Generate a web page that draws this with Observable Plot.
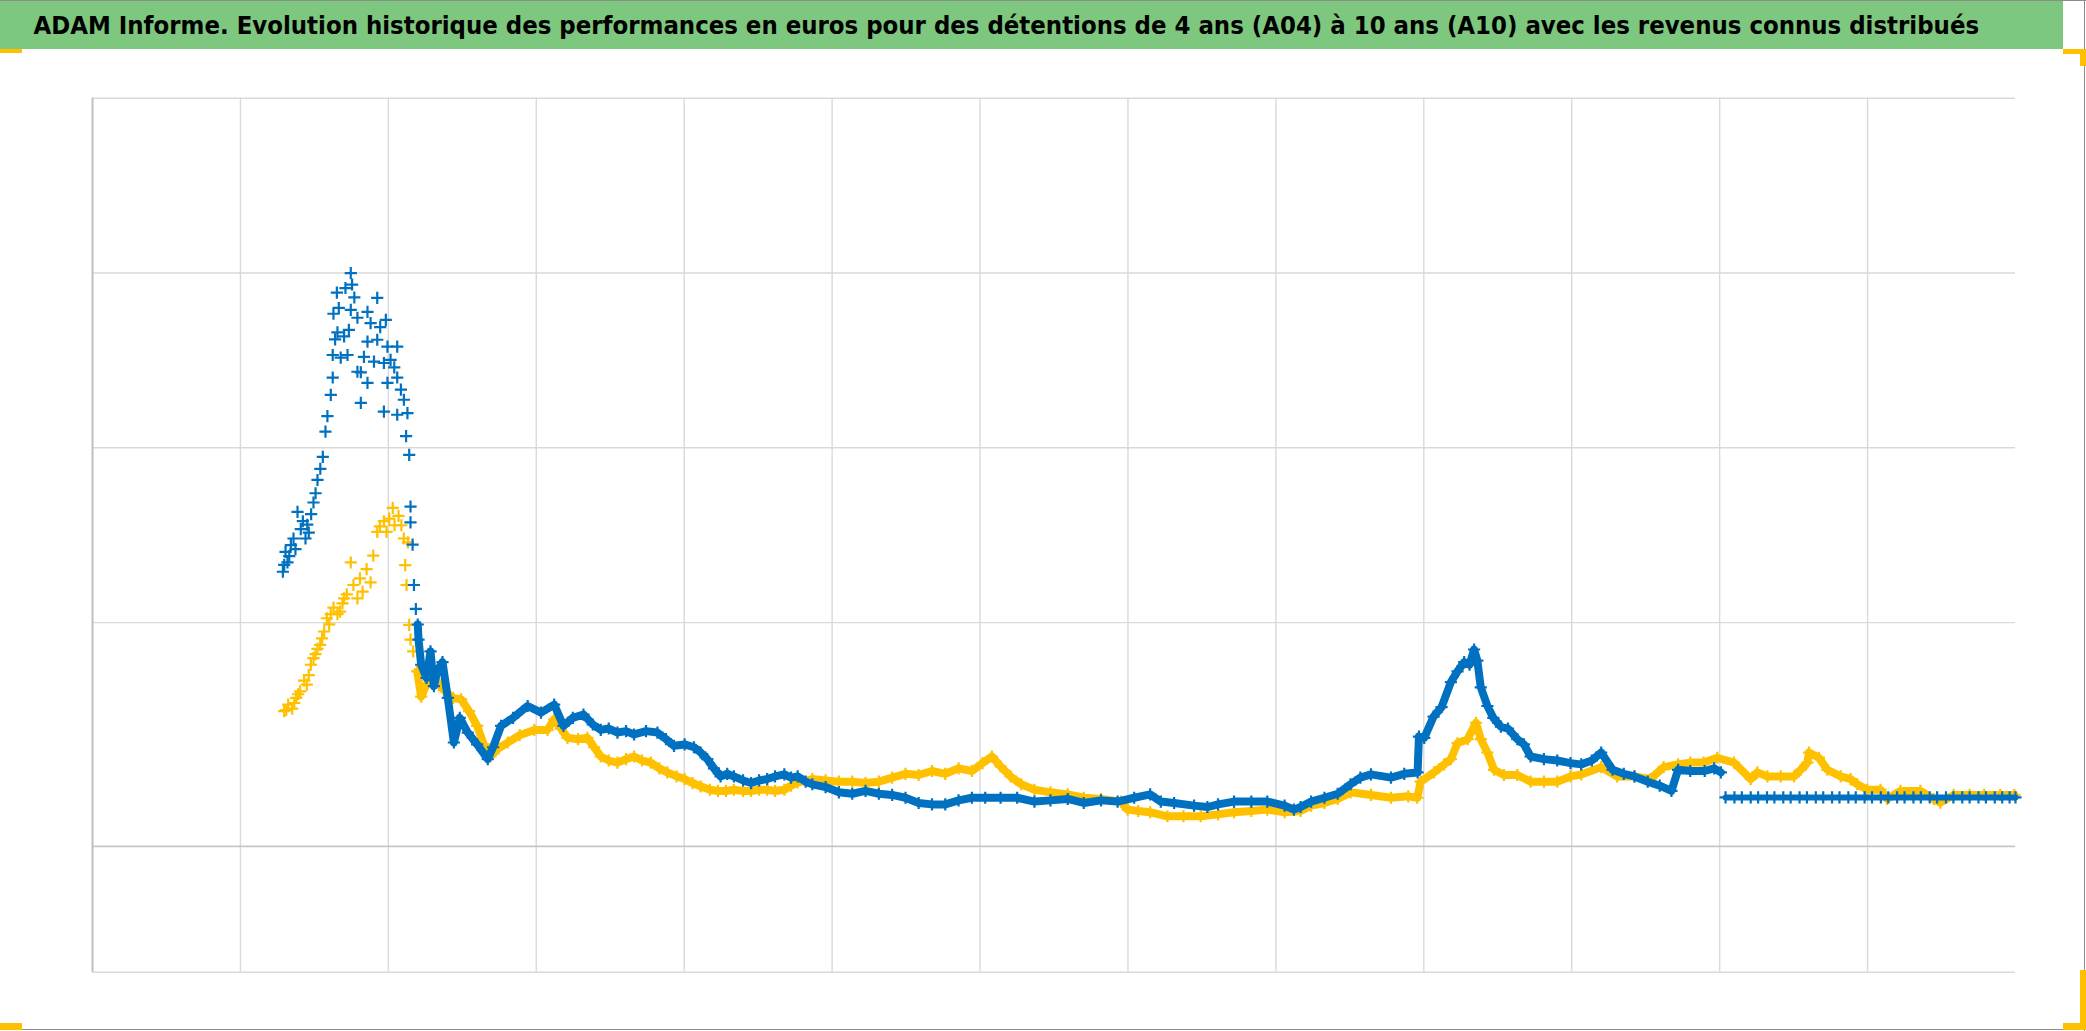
<!DOCTYPE html>
<html>
<head>
<meta charset="utf-8">
<script src="https://cdn.jsdelivr.net/npm/d3@7"></script>
<script src="https://cdn.jsdelivr.net/npm/@observablehq/plot@0.6"></script>
<style>
html, body { margin: 0; padding: 0; background: #fff; }
#chart { position: relative; width: 2086px; height: 1031px; overflow: hidden; background: #fff; }
#head { display: block; }
#plot { position: absolute; left: 0; top: 49px; }
.frame-r { position: absolute; left: 2084px; top: 0; width: 1px; height: 1031px; background: #8c8c8c; }
.frame-b { position: absolute; left: 0; top: 1029px; width: 2086px; height: 1px; background: #8c8c8c; }
.frame-t { position: absolute; left: 0; top: 0; width: 2086px; height: 1px; background: #8c8c8c; }
.h { position: absolute; background: #FFC000; }
</style>
</head>
<body>
<div id="chart">
  <svg id="head" width="2086" height="49">
    <rect x="0" y="0" width="2063" height="49" fill="#7ec77f"></rect>
    <g id="tg" transform="translate(33.5,33.5)">
      <text id="title" x="0" y="0"
        font-family="'Liberation Sans Narrow', 'Arial Narrow', 'DejaVu Sans Condensed', sans-serif"
        font-weight="bold" font-size="22" fill="#000">ADAM Informe. Evolution historique des performances en euros pour des détentions de 4 ans (A04) à 10 ans (A10) avec les revenus connus distribués</text>
    </g>
  </svg>
  <div id="plot"></div>
  <div class="frame-t"></div>
  <div class="frame-r"></div>
  <div class="frame-b"></div>
  <div class="h" style="left:0;top:49px;width:22px;height:4px"></div>
  <div class="h" style="left:2063px;top:49px;width:23px;height:5px"></div>
  <div class="h" style="left:2080px;top:49px;width:6px;height:17px"></div>
  <div class="h" style="left:2080px;top:970px;width:6px;height:60px"></div>
  <div class="h" style="left:2063px;top:1023px;width:23px;height:7px"></div>
  <div class="h" style="left:0;top:1023px;width:22px;height:7px"></div>
</div>
<script>
// ---- Data (x: period index on a 0–13 grid, y: performance level) ----
const xGrid = [1, 2, 3, 4, 5, 6, 7, 8, 9, 10, 11, 12];
const yGrid = [0, 2, 3, 4, 5];
const axisCross = 0.72;

// Blue series (A04), early volatile part
const a04Early = [
[1.287,2.291],[1.296,2.330],[1.305,2.405],[1.318,2.344],[1.330,2.380],[1.341,2.443],[1.359,2.481],[1.372,2.420],[1.386,2.633],[1.408,2.535],[1.422,2.580],
[1.440,2.481],[1.452,2.560],[1.462,2.515],[1.478,2.620],[1.494,2.687],[1.508,2.740],[1.521,2.816],[1.540,2.880],[1.557,2.948],[1.575,3.093],[1.588,3.181],[1.611,3.303],
[1.624,3.402],[1.624,3.531],[1.629,3.767],[1.640,3.620],[1.652,3.888],[1.656,3.660],[1.665,3.800],[1.678,3.516],[1.701,3.637],[1.710,3.914],
[1.724,3.531],[1.733,3.675],[1.746,3.999],[1.746,3.789],[1.755,3.934],[1.770,3.860],[1.791,3.744],[1.791,3.435],[1.814,3.432],
[1.814,3.257],[1.835,3.520],[1.859,3.778],[1.859,3.607],[1.859,3.371],[1.880,3.713],[1.903,3.493],[1.925,3.858],[1.925,3.618],
[1.945,3.690],[1.970,3.485],[1.970,3.207],[1.983,3.732],[1.994,3.579],[1.994,3.371],[2.015,3.503],[2.040,3.460],[2.060,3.579],[2.060,3.402],
[2.060,3.189],[2.085,3.333],[2.105,3.275],[2.120,3.067],[2.129,3.198],[2.141,2.960],[2.150,2.664],[2.150,2.573],
[2.164,2.446],[2.173,2.215],[2.186,2.078]
];
// Blue series (A04), continuous part
const a04 = [
[2.199,1.989],[2.204,1.903],[2.222,1.759],[2.258,1.683],[2.285,1.835],[2.308,1.637],[2.330,1.721],[2.366,1.774],
[2.402,1.569],[2.443,1.314],[2.483,1.455],[2.537,1.371],[2.600,1.303],[2.672,1.219],[2.708,1.287],[2.762,1.409],
[2.843,1.455],[2.942,1.523],[3.032,1.485],[3.121,1.531],[3.184,1.409],[3.247,1.455],[3.319,1.474],[3.382,1.417],
[3.436,1.386],[3.490,1.394],[3.549,1.371],[3.607,1.379],[3.661,1.360],[3.742,1.379],[3.819,1.371],[3.877,1.333],
[3.931,1.295],[4.003,1.303],[4.066,1.287],[4.111,1.257],[4.156,1.219],[4.201,1.166],[4.246,1.120],[4.291,1.135],
[4.336,1.120],[4.398,1.097],[4.452,1.082],[4.506,1.097],[4.561,1.105],[4.614,1.120],[4.677,1.132],[4.722,1.113],
[4.767,1.120],[4.821,1.090],[4.866,1.075],[4.956,1.059],[5.046,1.029],[5.136,1.021],[5.226,1.037],[5.316,1.021],
[5.406,1.014],[5.496,0.998],[5.585,0.968],[5.675,0.960],[5.765,0.960],[5.855,0.983],[5.945,0.998],[6.035,0.998],
[6.139,0.998],[6.251,0.998],[6.368,0.976],[6.476,0.983],[6.593,0.991],[6.701,0.968],[6.818,0.983],[6.930,0.976],
[7.042,0.998],[7.150,1.017],[7.222,0.976],[7.312,0.968],[7.447,0.953],[7.537,0.945],[7.609,0.960],[7.717,0.976],
[7.834,0.976],[7.942,0.976],[8.059,0.953],[8.122,0.930],[8.167,0.945],[8.238,0.976],[8.328,0.998],[8.418,1.021],
[8.505,1.075],[8.571,1.113],[8.643,1.132],[8.778,1.113],[8.868,1.135],[8.958,1.143],[8.967,1.348],[9.003,1.341],
[9.066,1.462],[9.120,1.516],[9.183,1.660],[9.228,1.721],[9.273,1.774],[9.309,1.759],[9.340,1.846],[9.362,1.782],
[9.385,1.630],[9.430,1.523],[9.470,1.455],[9.521,1.405],[9.569,1.394],[9.632,1.333],[9.677,1.303],[9.722,1.234],
[9.812,1.219],[9.902,1.211],[9.992,1.196],[10.064,1.189],[10.136,1.211],[10.199,1.257],[10.276,1.158],[10.352,1.135],
[10.424,1.120],[10.514,1.090],[10.595,1.067],[10.674,1.037],[10.719,1.158],[10.801,1.151],[10.899,1.151],[10.963,1.166],
[11.008,1.143]
];
// Blue series (A04), constant final part
const a04Flat = [
[11.04,1],[11.10,1],[11.15,1],[11.21,1],[11.26,1],[11.32,1],[11.37,1],[11.43,1],[11.48,1],[11.54,1],[11.59,1],[11.65,1],
[11.70,1],[11.76,1],[11.81,1],[11.87,1],[11.92,1],[11.98,1],[12.03,1],[12.09,1],[12.14,1],[12.20,1],[12.25,1],[12.31,1],
[12.36,1],[12.42,1],[12.47,1],[12.53,1],[12.58,1],[12.64,1],[12.69,1],[12.75,1],[12.80,1],[12.86,1],[12.91,1],[12.96,1],[13.0,1]
];
// Yellow series (A10), early part
const a10Early = [
[1.296,1.493],[1.310,1.500],[1.323,1.531],[1.350,1.508],[1.364,1.540],[1.377,1.569],[1.390,1.590],[1.404,1.607],[1.431,1.668],[1.449,1.645],[1.462,1.700],[1.476,1.759],
[1.494,1.797],[1.508,1.820],[1.521,1.850],[1.539,1.873],[1.552,1.910],[1.566,1.949],[1.584,2.025],[1.600,1.990],[1.611,2.048],[1.629,2.086],[1.656,2.048],
[1.674,2.063],[1.690,2.110],[1.701,2.139],[1.719,2.162],[1.746,2.344],[1.764,2.215],[1.791,2.139],[1.808,2.253],[1.826,2.177],
[1.853,2.306],[1.880,2.230],[1.898,2.383],[1.925,2.519],[1.943,2.550],[1.970,2.580],[1.988,2.519],[2.006,2.595],
[2.030,2.656],[2.042,2.557],[2.069,2.611],[2.088,2.557],[2.105,2.481],[2.114,2.329],[2.123,2.215],[2.132,2.459],
[2.141,1.987],[2.150,1.903],[2.168,1.835]
];
// Yellow series (A10), continuous part
const a10 = [
[2.195,1.721],[2.222,1.576],[2.258,1.645],[2.312,1.675],[2.375,1.614],[2.438,1.569],[2.492,1.561],[2.546,1.493],
[2.600,1.409],[2.645,1.303],[2.690,1.234],[2.744,1.280],[2.807,1.314],[2.888,1.356],[2.987,1.386],[3.076,1.386],
[3.121,1.447],[3.166,1.394],[3.211,1.341],[3.283,1.333],[3.346,1.341],[3.391,1.287],[3.436,1.234],[3.490,1.211],
[3.549,1.199],[3.607,1.219],[3.661,1.234],[3.715,1.211],[3.774,1.199],[3.832,1.166],[3.886,1.143],[3.949,1.120],
[4.003,1.105],[4.057,1.082],[4.111,1.063],[4.174,1.044],[4.228,1.037],[4.282,1.037],[4.336,1.044],[4.398,1.037],
[4.452,1.037],[4.506,1.044],[4.561,1.044],[4.614,1.037],[4.677,1.044],[4.722,1.067],[4.767,1.085],[4.866,1.105],
[4.956,1.097],[5.046,1.090],[5.136,1.090],[5.226,1.082],[5.316,1.090],[5.406,1.113],[5.496,1.135],[5.585,1.128],
[5.675,1.151],[5.765,1.135],[5.855,1.166],[5.945,1.151],[6.017,1.196],[6.080,1.234],[6.139,1.177],[6.206,1.120],
[6.278,1.075],[6.368,1.044],[6.476,1.029],[6.593,1.017],[6.701,0.998],[6.818,0.991],[6.953,0.976],[6.998,0.930],
[7.069,0.922],[7.150,0.915],[7.267,0.892],[7.375,0.892],[7.492,0.892],[7.609,0.903],[7.717,0.915],[7.834,0.922],
[7.942,0.930],[8.059,0.915],[8.167,0.922],[8.238,0.953],[8.328,0.968],[8.418,0.991],[8.505,1.029],[8.643,1.014],
[8.778,0.998],[8.895,1.006],[8.956,0.998],[8.979,1.090],[9.069,1.143],[9.138,1.189],[9.183,1.219],[9.228,1.310],
[9.296,1.333],[9.353,1.427],[9.385,1.333],[9.430,1.257],[9.475,1.158],[9.542,1.128],[9.632,1.128],[9.722,1.090],
[9.812,1.090],[9.902,1.090],[9.992,1.120],[10.064,1.131],[10.199,1.173],[10.307,1.120],[10.424,1.120],[10.532,1.105],
[10.621,1.173],[10.719,1.189],[10.801,1.199],[10.891,1.199],[10.984,1.227],[11.097,1.199],[11.210,1.105],[11.255,1.143],
[11.323,1.120],[11.413,1.120],[11.503,1.120],[11.548,1.158],[11.593,1.199],[11.604,1.257],[11.671,1.227],[11.728,1.158],
[11.818,1.120],[11.885,1.105],[11.930,1.075],[11.998,1.044],[12.087,1.044],[12.132,0.991],[12.222,1.037],[12.357,1.037],
[12.447,0.991],[12.492,0.970],[12.582,1.014],[12.690,1.014],[12.789,1.014],[12.897,1.014],[12.992,1.014]
];

// ---- Title sizing: fit the natural text width, then stretch vertically ----
(function fitTitle() {
  const t = document.getElementById("title");
  const g = document.getElementById("tg");
  const targetW = 1946, capTarget = 17.5;
  let fs = 22;
  t.setAttribute("font-size", fs);
  const L = t.getComputedTextLength();
  if (L > 0) fs = fs * targetW / L;
  t.setAttribute("font-size", fs.toFixed(2));
  let cap = fs * 0.72;
  try {
    const bb = t.getBBox();
    // bbox height ≈ ascent + descent; cap height roughly 0.62 of it
    if (bb.height > 0) cap = bb.height * 0.62;
  } catch (e) {}
  const sy = Math.max(0.8, Math.min(1.6, capTarget / cap));
  g.setAttribute("transform", `translate(33.5,33.5) scale(1,${sy.toFixed(3)})`);
})();

const blue = "#0070C0";
const yellow = "#FFC000";
const X = d => d[0], Y = d => d[1];

const chart = Plot.plot({
  width: 2086,
  height: 982,
  marginLeft: 92,
  marginRight: 71,
  marginTop: 48.7,
  marginBottom: 59.3,
  x: {domain: [0, 13], axis: null},
  y: {domain: [0, 5], axis: null},
  style: {background: "transparent", overflow: "visible"},
  marks: [
    Plot.ruleX(xGrid, {stroke: "#d9d9d9", strokeWidth: 1.4}),
    Plot.ruleY(yGrid, {stroke: "#d9d9d9", strokeWidth: 1.4}),
    Plot.ruleY([axisCross], {stroke: "#c6c6c6", strokeWidth: 1.8}),
    Plot.ruleX([0], {stroke: "#bfbfbf", strokeWidth: 2}),
    Plot.line(a10, {x: X, y: Y, stroke: yellow, strokeWidth: 8}),
    Plot.dot(a10Early.concat(a10), {x: X, y: Y, symbol: "plus", r: 4, stroke: yellow, strokeWidth: 2.2}),
    Plot.line(a04, {x: X, y: Y, stroke: blue, strokeWidth: 8}),
    Plot.line(a04Flat, {x: X, y: Y, stroke: blue, strokeWidth: 6}),
    Plot.dot(a04Early.concat(a04, a04Flat), {x: X, y: Y, symbol: "plus", r: 4, stroke: blue, strokeWidth: 2.2})
  ]
});
document.getElementById("plot").appendChild(chart);
</script>
</body>
</html>
